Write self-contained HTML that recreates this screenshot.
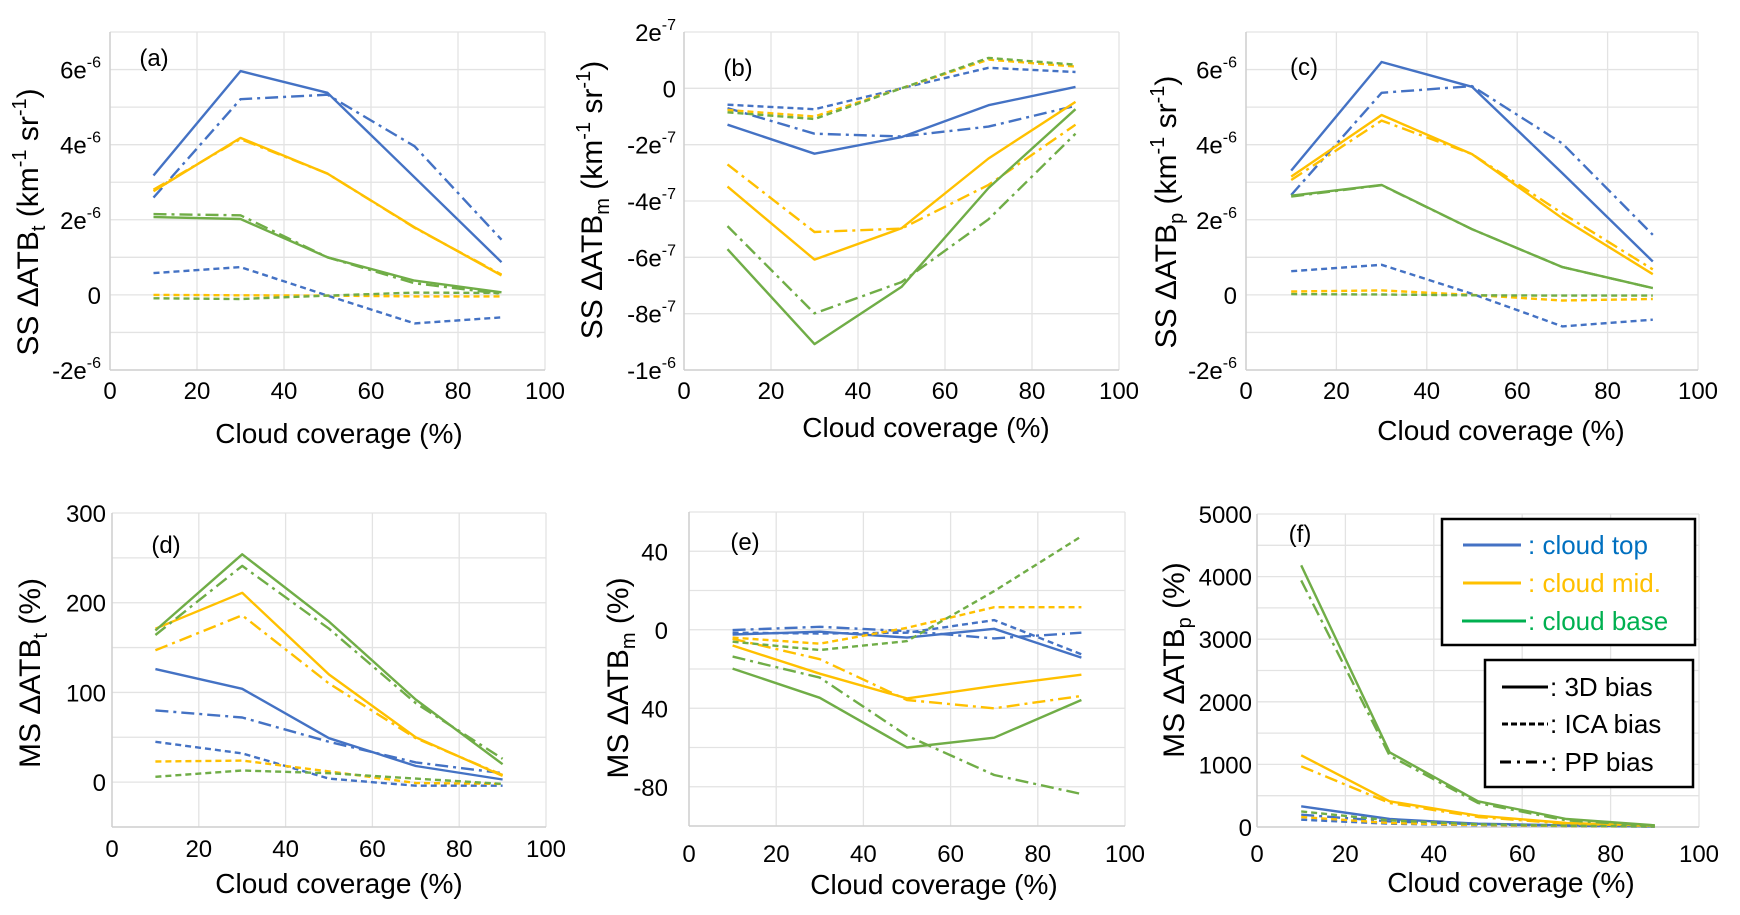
<!DOCTYPE html>
<html><head><meta charset="utf-8">
<style>
html,body{margin:0;padding:0;background:#fff;}
svg{display:block;font-family:"Liberation Sans",sans-serif;}
</style></head>
<body>
<svg id="fig" width="1740" height="915" viewBox="0 0 1740 915" xmlns="http://www.w3.org/2000/svg"></svg>
<script>
const xCats = [10, 30, 50, 70, 90];
const seriesNames = ["top-3d","top-ica","top-pp","mid-3d","mid-ica","mid-pp","base-3d","base-ica","base-pp"];
// Panel a (units 1e-6)
const aTop3d=[3.18,5.96,5.38,3.13,0.87], aTopIca=[0.58,0.74,-0.02,-0.76,-0.6], aTopPp=[2.59,5.21,5.33,3.96,1.47];
const aMid3d=[2.76,4.18,3.23,1.8,0.52], aMidIca=[0,-0.01,-0.02,-0.04,-0.04], aMidPp=[2.8,4.15,3.23,1.79,0.54];
const aBase3d=[2.07,2.02,1.0,0.38,0.07], aBaseIca=[-0.09,-0.11,-0.02,0.06,0.05], aBasePp=[2.15,2.12,1.0,0.31,0.03];
// Panel b (units 1e-7)
const bTop3d=[-1.29,-2.32,-1.73,-0.6,0.05], bTopIca=[-0.58,-0.74,0,0.73,0.58], bTopPp=[-0.7,-1.61,-1.71,-1.36,-0.62];
const bMid3d=[-3.49,-6.08,-4.97,-2.49,-0.48], bMidIca=[-0.77,-1.0,0,1.02,0.77], bMidPp=[-2.7,-5.1,-4.98,-3.43,-1.29];
const bBase3d=[-5.71,-9.08,-7.05,-3.54,-0.74], bBaseIca=[-0.85,-1.09,0,1.08,0.84], bBasePp=[-4.89,-7.99,-6.88,-4.65,-1.61];
// Panel c (units 1e-6)
const cTop3d=[3.31,6.2,5.54,3.24,0.89], cTopIca=[0.63,0.8,0.03,-0.84,-0.66], cTopPp=[2.66,5.38,5.56,4.03,1.6];
const cMid3d=[3.15,4.79,3.75,2.04,0.55], cMidIca=[0.09,0.12,0,-0.15,-0.11], cMidPp=[3.06,4.64,3.75,2.17,0.68];
const cBase3d=[2.64,2.93,1.75,0.74,0.18], cBaseIca=[0.02,0.01,-0.01,-0.02,-0.02], cBasePp=[2.62,2.92,1.75,0.74,0.18];
// Panel d (%)
const dTop3d=[126,104,49,18,3], dTopIca=[45,32,4,-4,-4], dTopPp=[80,72,45,22,10];
const dMid3d=[171,211,120,50,7], dMidIca=[23,24,12,-1,-2], dMidPp=[147,186,110,49,8];
const dBase3d=[169,254,179,92,20], dBaseIca=[6,13,10,4,-2], dBasePp=[164,241,171,88,26];
// Panel e (%)
const eTop3d=[-2.4,-1,-4,0.5,-14.2], eTopIca=[-1.5,-1.9,-1.5,4.9,-12.5], eTopPp=[-0.2,1.5,-0.7,-4.4,-1.5];
const eMid3d=[-8,-22.4,-35,-28.6,-22.9], eMidIca=[-4,-7.1,1,11.5,11.5], eMidPp=[-4.6,-15,-35.8,-40,-33.7];
const eBase3d=[-19.8,-34.7,-60,-55,-35.8], eBaseIca=[-6.1,-10.3,-5.8,19.7,47.6], eBasePp=[-13.7,-24.4,-54,-74,-83.7];
// Panel f (%)
const fTop3d=[330,128,53,27,10], fTopIca=[117,53,27,16,5], fTopPp=[197,90,43,21,10];
const fMid3d=[1145,410,181,64,21], fMidIca=[160,64,32,16,10], fMidPp=[969,383,160,53,16];
const fBase3d=[4180,1193,410,128,27], fBaseIca=[250,106,43,21,10], fBasePp=[3940,1140,383,106,21];
// tick labels
const xTickLabels=["0","20","40","60","80","100"];
const aTickVals=[6,4,2,0,-2], aTickLabels=[["6e","-6"],["4e","-6"],["2e","-6"],["0",""],["-2e","-6"]];
const bTickVals=[2,0,-2,-4,-6,-8,-10], bTickLabels=[["2e","-7"],["0",""],["-2e","-7"],["-4e","-7"],["-6e","-7"],["-8e","-7"],["-1e","-6"]];
const cTickVals=aTickVals, cTickLabels=aTickLabels;
const dTickVals=[300,200,100,0], dTickLabels=[["300",""],["200",""],["100",""],["0",""]];
const eTickVals=[40,0,-40,-80], eTickLabels=[["40",""],["0",""],["40",""],["-80",""]];
const fTickVals=[5000,4000,3000,2000,1000,0], fTickLabels=[["5000",""],["4000",""],["3000",""],["2000",""],["1000",""],["0",""]];

const NS="http://www.w3.org/2000/svg";
const svg=document.getElementById('fig');
const BLUE="#4472C4", YEL="#FFC000", GRN="#70AD47";
const DASH={s:null,d:"6,4",p:"13,5,3,5"};
function mk(tag,attrs,parent){const e=document.createElementNS(NS,tag);for(const k in attrs)e.setAttribute(k,attrs[k]);(parent||svg).appendChild(e);return e;}

function panel(cfg){
  const g=mk('g',{});
  
  
  const sx=v=>cfg.x0+(v-0)/100*(cfg.x1-cfg.x0);
  const sy=v=>cfg.y1-(v-cfg.ymin)/(cfg.ymax-cfg.ymin)*(cfg.y1-cfg.y0);
  for(let v=cfg.ymin;v<=cfg.ymax+1e-9;v+=cfg.gstep){
    const l=mk('line',{x1:cfg.x0,x2:cfg.x1,y1:sy(v),y2:sy(v),stroke:"#e3e3e3","stroke-width":1.3},g);
    
    
  }
  for(let v=0;v<=100;v+=20){
    const l=mk('line',{x1:sx(v),x2:sx(v),y1:cfg.y0,y2:cfg.y1,stroke:"#e3e3e3","stroke-width":1.3},g);
    
    
  }
  mk('line',{x1:cfg.x0,x2:cfg.x1,y1:cfg.y1,y2:cfg.y1,stroke:"#d0d0d0","stroke-width":1.5},g);
  mk('line',{x1:cfg.x0,x2:cfg.x0,y1:cfg.y0,y2:cfg.y1,stroke:"#d0d0d0","stroke-width":1.5},g);
  cfg.tv.forEach((v,i)=>{
    const t=mk('text',{x:cfg.tx,y:sy(v)+9,"text-anchor":"end","font-size":24,fill:"#000"},g);
    
    
    const lab=cfg.tl[i];
    const a=mk('tspan',{},t);a.textContent=lab[0];
    if(lab[1]){const b=mk('tspan',{"font-size":16,dy:-11},t);b.textContent=lab[1];}
  });
  xTickLabels.forEach((s,i)=>{
    const t=mk('text',{x:sx(i*20),y:cfg.xty,"text-anchor":"middle","font-size":24,fill:"#000"},g);
    
    
    t.textContent=s;
  });
  cfg.series.forEach(([arr,col,st,nm])=>{
    const pts=xCats.map((x,i)=>sx(x).toFixed(1)+","+sy(arr[i]).toFixed(1)).join(" ");
    const a={points:pts,fill:"none",stroke:col,"stroke-width":2.4,"stroke-linejoin":"round"};
    if(DASH[st])a["stroke-dasharray"]=DASH[st];
    const p=mk('polyline',a,g);
    
    
  });
  const pl=mk('text',{x:cfg.lx,y:cfg.ly,"text-anchor":"middle","font-size":24,fill:"#000"},g);
  
  
  pl.textContent="("+cfg.id+")";
  const xt=mk('text',{x:cfg.xtx,y:cfg.xtyy,"text-anchor":"middle","font-size":28,fill:"#000"},g);
  
  
  xt.textContent="Cloud coverage (%)";
  const yt=mk('text',{transform:`translate(${cfg.ytx},${cfg.yty}) rotate(-90)`,"text-anchor":"middle","font-size":30,fill:"#000","xml:space":"preserve"},g);
  
  
  cfg.yt.forEach(([s,kind])=>{
    const ts=mk('tspan',{},yt);
    if(kind==='sub'){ts.setAttribute('font-size',20);ts.setAttribute('dy',7);}
    else if(kind==='sup'){ts.setAttribute('font-size',20);ts.setAttribute('dy',-12);}
    else if(kind==='back2'){ts.setAttribute('dy',12);}
    else if(kind==='up'){ts.setAttribute('dy',-7);}
    ts.textContent=s;
  });
}
function ser(t3,ti,tp,m3,mi,mp,b3,bi,bp){
  return [[t3,BLUE,'s','top-3d'],[ti,BLUE,'d','top-ica'],[tp,BLUE,'p','top-pp'],
          [m3,YEL,'s','mid-3d'],[mi,YEL,'d','mid-ica'],[mp,YEL,'p','mid-pp'],
          [b3,GRN,'s','base-3d'],[bi,GRN,'d','base-ica'],[bp,GRN,'p','base-pp']];
}
function yTitle(pre,sub,unit){
  if(unit==='km') return [[pre+"  \u0394ATB",''],[sub,'sub'],["  (km",'up'],["-1",'sup'],[" sr",'back2'],["-1",'sup'],[")",'back2']];
  return [[pre+"  \u0394ATB",''],[sub,'sub'],["  (%)",'up']];
}
panel({id:'a',x0:110,x1:545,y0:32,y1:370,ymin:-2,ymax:7,gstep:1,tv:aTickVals,tl:aTickLabels,tx:101,xty:399,
  series:ser(aTop3d,aTopIca,aTopPp,aMid3d,aMidIca,aMidPp,aBase3d,aBaseIca,aBasePp),lx:154,ly:66,xtx:339,xtyy:443,ytx:38,yty:222,yt:yTitle("SS","t",'km')});
panel({id:'b',x0:684,x1:1119,y0:32,y1:370,ymin:-10,ymax:2,gstep:2,tv:bTickVals,tl:bTickLabels,tx:676,xty:399,
  series:ser(bTop3d,bTopIca,bTopPp,bMid3d,bMidIca,bMidPp,bBase3d,bBaseIca,bBasePp),lx:738,ly:76,xtx:926,xtyy:437,ytx:602,yty:200,yt:yTitle("SS","m",'km')});
panel({id:'c',x0:1246,x1:1698,y0:32,y1:370,ymin:-2,ymax:7,gstep:1,tv:cTickVals,tl:cTickLabels,tx:1237,xty:399,
  series:ser(cTop3d,cTopIca,cTopPp,cMid3d,cMidIca,cMidPp,cBase3d,cBaseIca,cBasePp),lx:1304,ly:75,xtx:1501,xtyy:440,ytx:1176,yty:212,yt:yTitle("SS","p",'km')});
panel({id:'d',x0:112,x1:546,y0:513,y1:827,ymin:-50,ymax:300,gstep:50,tv:dTickVals,tl:dTickLabels,tx:106,xty:857,
  series:ser(dTop3d,dTopIca,dTopPp,dMid3d,dMidIca,dMidPp,dBase3d,dBaseIca,dBasePp),lx:166,ly:553,xtx:339,xtyy:893,ytx:40,yty:673,yt:yTitle("MS","t",'pc')});
panel({id:'e',x0:689,x1:1125,y0:512,y1:826,ymin:-100,ymax:60,gstep:20,tv:eTickVals,tl:eTickLabels,tx:668,xty:862,
  series:ser(eTop3d,eTopIca,eTopPp,eMid3d,eMidIca,eMidPp,eBase3d,eBaseIca,eBasePp),lx:745,ly:550,xtx:934,xtyy:894,ytx:628,yty:678,yt:yTitle("MS","m",'pc')});
panel({id:'f',x0:1257,x1:1699,y0:514,y1:827,ymin:0,ymax:5000,gstep:500,tv:fTickVals,tl:fTickLabels,tx:1252,xty:862,
  series:ser(fTop3d,fTopIca,fTopPp,fMid3d,fMidIca,fMidPp,fBase3d,fBaseIca,fBasePp),lx:1300,ly:542,xtx:1511,xtyy:892,ytx:1184,yty:660,yt:yTitle("MS","p",'pc')});
</script>
<svg style="position:absolute;left:0;top:0" width="1740" height="915" viewBox="0 0 1740 915">
  <g>
    <rect x="1442" y="519" width="253" height="126" fill="#fff" stroke="#000" stroke-width="2.5"/>
    <line x1="1463" y1="545" x2="1521" y2="545" stroke="#4472C4" stroke-width="3"/>
    <text x="1528" y="554" font-size="26" fill="#0070C0" font-family="Liberation Sans, sans-serif">: cloud top</text>
    <line x1="1463" y1="583" x2="1521" y2="583" stroke="#FFC000" stroke-width="3"/>
    <text x="1528" y="592" font-size="26" fill="#FFC000" font-family="Liberation Sans, sans-serif">: cloud mid.</text>
    <line x1="1462" y1="621" x2="1526" y2="621" stroke="#00B050" stroke-width="3"/>
    <text x="1528" y="630" font-size="26" fill="#00B050" font-family="Liberation Sans, sans-serif">: cloud base</text>
  </g>
  <g>
    <rect x="1485" y="660" width="208" height="127" fill="#fff" stroke="#000" stroke-width="2.5"/>
    <line x1="1502" y1="687" x2="1548" y2="687" stroke="#000" stroke-width="3"/>
    <text x="1550" y="696" font-size="26" fill="#000" font-family="Liberation Sans, sans-serif">: 3D bias</text>
    <line x1="1502" y1="724" x2="1548" y2="724" stroke="#000" stroke-width="3" stroke-dasharray="6,3"/>
    <text x="1550" y="733" font-size="26" fill="#000" font-family="Liberation Sans, sans-serif">: ICA bias</text>
    <line x1="1500" y1="762" x2="1548" y2="762" stroke="#000" stroke-width="3" stroke-dasharray="11,6,3,6"/>
    <text x="1550" y="771" font-size="26" fill="#000" font-family="Liberation Sans, sans-serif">: PP bias</text>
  </g>
</svg>
</body></html>
